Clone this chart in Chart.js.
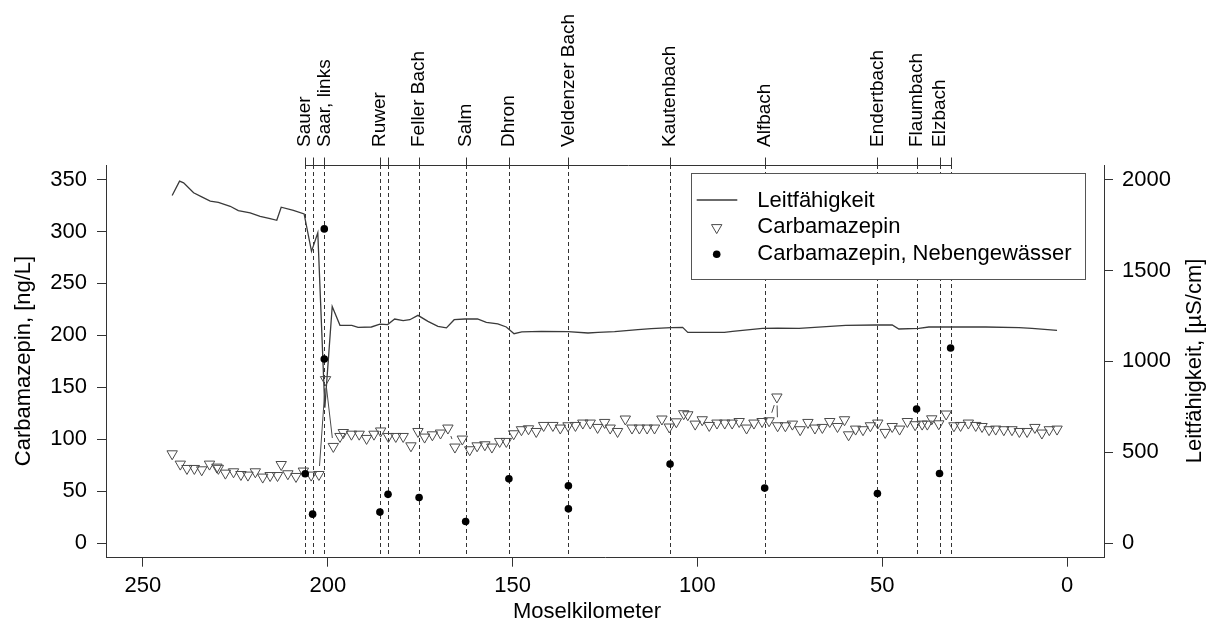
<!DOCTYPE html>
<html><head><meta charset="utf-8">
<script src="https://cdn.jsdelivr.net/npm/chart.js"></script>
<style>html,body{margin:0;padding:0;background:#fff}canvas{display:block}</style>
</head><body>
<canvas id="c" width="1219" height="628"></canvas>
<script>
const xTicks=[0,50,100,150,200,250];
const yTicks=[0,50,100,150,200,250,300,350];
const y2Ticks=[0,500,1000,1500,2000];

const condKm=[242.1,240.1,239.0,236.3,234.1,231.8,229.6,226.4,224.2,221.0,218.3,215.6,213.8,212.6,209.3,206.4,204.4,202.7,200.8,198.8,196.7,193.5,191.8,188.2,185.9,183.8,181.9,179.6,177.8,175.6,172.9,170.2,167.9,165.8,162.9,159.5,157.1,154.0,151.7,149.6,147.5,142.2,135.0,129.6,126.9,122.4,116.1,112.5,107.1,104.0,102.6,92.7,90.5,82.4,78.3,72.5,59.9,51.8,47.3,45.5,40.1,37.4,31.1,22.0,13.0,9.5,2.7];
const condVal=[1912,1991,1982,1927,1905,1881,1875,1853,1829,1817,1798,1785,1776,1848,1831,1811,1605,1707,745,1302,1198,1198,1187,1189,1205,1202,1233,1224,1229,1253,1220,1192,1184,1229,1233,1233,1214,1206,1189,1152,1162,1165,1163,1156,1159,1163,1174,1180,1185,1187,1159,1159,1165,1181,1183,1181,1198,1200,1200,1178,1181,1189,1189,1189,1185,1181,1170];

const carbKm=[242.1,239.9,238.1,236.1,234.1,232.0,230.0,229.6,227.7,225.5,223.5,221.6,219.6,217.6,215.6,213.6,212.6,210.8,208.6,206.6,204.5,202.4,200.6,198.5,196.7,195.8,193.6,191.5,189.5,187.5,185.7,183.6,181.6,179.6,177.5,175.6,173.8,171.7,169.5,167.5,165.6,163.6,161.6,159.6,157.5,155.6,153.5,151.7,149.7,147.6,145.7,143.6,141.6,139.1,137.1,135.0,133.0,131.0,129.0,127.0,125.1,123.6,121.6,119.5,117.7,115.7,113.6,111.6,109.6,107.6,105.7,103.7,102.6,100.6,98.7,96.8,94.7,92.6,90.6,88.7,86.7,84.7,82.5,80.6,78.5,78.3,76.2,74.3,72.2,70.1,68.2,66.2,64.2,62.1,60.2,59.1,57.2,55.2,53.2,51.2,49.2,47.3,45.3,43.2,41.1,39.2,37.8,36.6,34.7,32.7,30.6,28.8,26.7,24.7,23.0,21.1,19.3,17.1,14.9,12.9,10.8,8.7,6.8,4.8,2.7];
const carbVal=[86.0,76.1,71.9,71.9,70.6,76.1,73.2,72.0,67.4,68.7,66.1,65.5,68.7,63.6,65.1,65.1,75.7,66.8,64.2,69.4,65.5,66.1,157.4,93.1,102.7,106.5,104.9,104.9,100.8,104.9,108.0,102.7,102.7,102.7,93.7,107.5,102.1,104.3,106.0,110.8,92.5,100.2,89.9,93.7,94.7,92.5,97.9,97.9,105.3,109.2,110.1,107.5,113.3,113.3,110.8,113.0,113.3,115.6,115.6,111.4,116.2,110.8,107.5,119.5,110.8,110.8,110.8,110.8,119.5,111.8,116.8,124.6,123.6,114.6,118.8,113.3,115.6,115.6,115.6,117.1,110.8,115.6,117.1,117.8,140.7,113.0,113.0,114.6,109.2,116.2,110.8,111.4,117.1,112.3,118.8,104.3,109.8,109.2,113.0,115.6,106.6,112.3,109.8,117.1,114.0,114.6,114.6,119.7,114.9,124.3,113.0,113.3,115.6,113.3,112.3,109.2,109.8,109.2,109.2,107.5,107.5,111.4,106.0,109.2,109.8];

const nebKm=[206.1,204.1,200.95,200.95,185.9,183.7,175.3,162.7,151.0,134.9,134.9,107.4,81.8,51.3,40.7,34.5,31.5];
const nebVal=[66.8,27.9,302.5,177.3,29.9,47.0,43.9,20.8,61.9,55.2,33.0,76.1,53.0,47.8,129.1,67.1,187.9];

const tribKm=[206.1,204.1,200.95,185.9,183.7,175.3,162.7,151.0,134.9,107.4,81.8,51.3,40.7,34.5,31.5];
const tribNames=["Sauer","","Saar, links","Ruwer","","Feller Bach","Salm","Dhron","Veldenzer Bach","Kautenbach","Alfbach","Endertbach","Flaumbach","Elzbach",""];

const FONT='"Liberation Sans", Arial, sans-serif';
Chart.defaults.font.family=FONT;
Chart.defaults.font.size=22;
Chart.defaults.color='#000';

const xy=(xs,ys)=>xs.map((v,i)=>({x:v,y:ys[i]}));
const fixed=arr=>s=>{s.ticks=arr.map(v=>({value:v}));};
const plain=v=>String(v);

function tri(ctx,x,y,r){
  ctx.beginPath();
  ctx.moveTo(x,y+r);
  ctx.lineTo(x-r*Math.sqrt(3)/2,y-r/2);
  ctx.lineTo(x+r*Math.sqrt(3)/2,y-r/2);
  ctx.closePath();
  ctx.stroke();
}

const extras={
  id:'extras',
  beforeDatasetsDraw(chart){
    const {ctx,chartArea:a,scales:{x}}=chart;
    ctx.save();
    ctx.strokeStyle='#333';ctx.lineWidth=1;
    ctx.setLineDash([4,3]);
    const xs=tribKm.map(k=>x.getPixelForValue(k));
    xs.forEach(px=>{const p=Math.round(px)+0.5;ctx.beginPath();ctx.moveTo(p,a.top);ctx.lineTo(p,a.bottom);ctx.stroke();});
    ctx.setLineDash([]);
    const t=Math.round(a.top)+0.5;
    ctx.beginPath();ctx.moveTo(Math.round(Math.min(...xs))+0.5,t);ctx.lineTo(Math.round(Math.max(...xs))+0.5,t);ctx.stroke();
    xs.forEach(px=>{const p=Math.round(px)+0.5;ctx.beginPath();ctx.moveTo(p,t);ctx.lineTo(p,t-8);ctx.stroke();});
    ctx.fillStyle='#000';
    ctx.font='19px '+FONT;
    tribNames.forEach((n,i)=>{if(!n)return;ctx.save();ctx.translate(xs[i],a.top-18);ctx.rotate(-Math.PI/2);ctx.textAlign='left';ctx.textBaseline='middle';ctx.fillText(n,0,0);ctx.restore();});
    ctx.font='22px '+FONT;
    ctx.textAlign='center';ctx.textBaseline='middle';
    ctx.fillText('Moselkilometer',587,612);
    ctx.save();ctx.translate(23.5,361);ctx.rotate(-Math.PI/2);ctx.fillText('Carbamazepin, [ng/L]',0,0);ctx.restore();
    ctx.save();ctx.translate(1195,361);ctx.rotate(-Math.PI/2);ctx.fillText('Leitfähigkeit, [µS/cm]',0,0);ctx.restore();
    ctx.restore();
  },
  afterDatasetsDraw(chart){
    const {ctx}=chart;
    const pts=chart.getDatasetMeta(1).data;
    const gap=8.5;
    ctx.save();
    ctx.strokeStyle='#4a4a4a';ctx.lineWidth=1;
    for(let i=0;i<pts.length-1;i++){
      const p=pts[i],q=pts[i+1];
      const dx=q.x-p.x,dy=q.y-p.y,d=Math.hypot(dx,dy);
      if(d>2*gap){
        const ux=dx/d,uy=dy/d;
        ctx.beginPath();ctx.moveTo(p.x+ux*gap,p.y+uy*gap);ctx.lineTo(q.x-ux*gap,q.y-uy*gap);ctx.stroke();
      }
    }
    const L={x:690.7,y:173.3,w:393.6,h:106};
    ctx.fillStyle='#fff';ctx.fillRect(L.x,L.y,L.w,L.h);
    ctx.strokeStyle='#555';ctx.lineWidth=1;ctx.strokeRect(Math.round(L.x)+0.5,Math.round(L.y)+0.5,Math.round(L.w),Math.round(L.h));
    const ds=chart.data.datasets;
    ctx.strokeStyle=ds[0].borderColor;ctx.lineWidth=ds[0].borderWidth;
    ctx.beginPath();ctx.moveTo(696.7,200);ctx.lineTo(737.3,200);ctx.stroke();
    ctx.strokeStyle=ds[1].borderColor;ctx.lineWidth=1;
    tri(ctx,716.7,227.6,ds[1].pointRadius);
    ctx.fillStyle='#000';ctx.beginPath();ctx.arc(716.7,254.3,ds[2].pointRadius,0,Math.PI*2);ctx.fill();
    ctx.font='22px '+FONT;ctx.textAlign='left';ctx.textBaseline='alphabetic';
    ctx.fillText(ds[0].label,757.3,206.7);
    ctx.fillText(ds[1].label,757.3,233.3);
    ctx.fillText(ds[2].label,757.3,260);
    ctx.restore();
  }
};

const axisCommon={
  grid:{display:true,drawOnChartArea:false,drawTicks:true,tickLength:9,color:'#333',tickColor:'#333',lineWidth:1},
  border:{display:true,color:'#333',width:1},
};

new Chart(document.getElementById('c'),{
  type:'scatter',
  data:{datasets:[
    {label:'Leitfähigkeit',data:xy(condKm,condVal),yAxisID:'y2',showLine:true,borderColor:'#3a3a3a',borderWidth:1.3,pointRadius:0,tension:0,fill:false,order:3},
    {label:'Carbamazepin',data:xy(carbKm,carbVal),yAxisID:'y',pointStyle:'triangle',rotation:180,pointRadius:6,borderColor:'#4a4a4a',backgroundColor:'rgba(255,255,255,0)',pointBorderWidth:1,borderWidth:1,order:2},
    {label:'Carbamazepin, Nebengewässer',data:xy(nebKm,nebVal),yAxisID:'y',pointStyle:'circle',pointRadius:3.8,backgroundColor:'#000',borderColor:'#000',borderWidth:0,order:1}
  ]},
  options:{
    responsive:false,animation:false,devicePixelRatio:1,
    layout:{padding:{top:165,left:0,right:0,bottom:0}},
    plugins:{legend:{display:false},tooltip:{enabled:false}},
    scales:{
      x:{type:'linear',reverse:true,min:-10,max:260,afterBuildTicks:fixed(xTicks),afterFit:s=>{s.height=70.3;},
         ...axisCommon,ticks:{padding:6,autoSkip:false,maxRotation:0,color:'#000',callback:plain}},
      y:{type:'linear',position:'left',min:-14,max:364,afterBuildTicks:fixed(yTicks),afterFit:s=>{s.width=106;},
         ...axisCommon,ticks:{padding:10,autoSkip:false,color:'#000',callback:plain}},
      y2:{type:'linear',position:'right',min:-80,max:2080,afterBuildTicks:fixed(y2Ticks),afterFit:s=>{s.width=115;},
         ...axisCommon,ticks:{padding:9,autoSkip:false,color:'#000',callback:plain}}
    }
  },
  plugins:[extras]
});
</script>
</body></html>
